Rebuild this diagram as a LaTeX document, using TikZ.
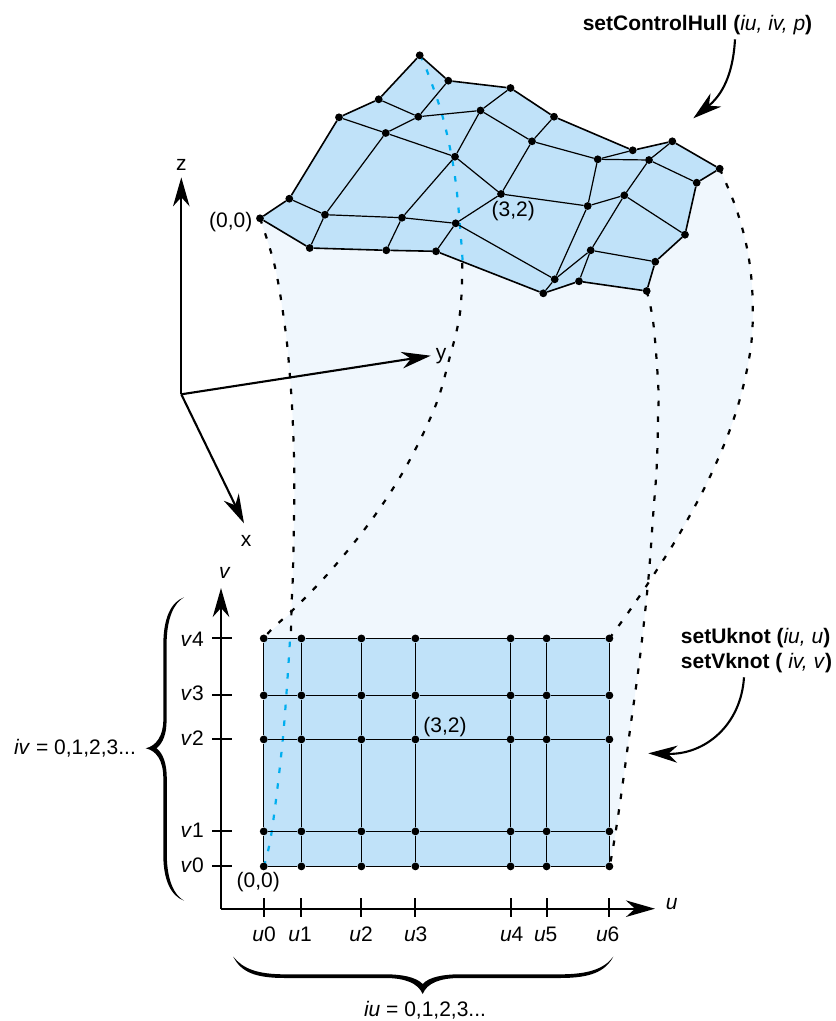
\documentclass[tikz,border=0pt]{standalone}
\usepackage{fontspec}
\setmainfont{Liberation Sans}
\usetikzlibrary{arrows.meta}
\definecolor{hullblue}{HTML}{C0E2F9}
\definecolor{paleblue}{HTML}{F0F7FD}
\definecolor{dashblue}{HTML}{00AEEF}
\tikzset{
  x=1pt,y=-1pt,
  dotnode/.style={circle,fill=black,inner sep=0pt,minimum size=7.8pt},
  lbl/.style={inner sep=0pt,font=\fontsize{21}{24}\selectfont,text=black},
  boldlbl/.style={lbl,font=\fontsize{21}{24}\selectfont\bfseries},
  innerline/.style={line width=1.2pt,black},
  outerline/.style={line width=1.6pt,black,line join=round},
  axisline/.style={line width=2.1pt,black,-{Stealth[length=29pt,width=16.5pt,inset=9pt]}},
  tickline/.style={line width=2pt,black},
  pointer/.style={line width=2.1pt,black,-{Stealth[length=29pt,width=17pt,inset=9pt]}},
  blackdash/.style={line width=2.2pt,black,dash pattern=on 5.5pt off 10.3pt},
  bluedash/.style={line width=2.2pt,dashblue,dash pattern=on 5.5pt off 10.3pt},
}
\begin{document}
\begin{tikzpicture}
\useasboundingbox (0,0) rectangle (836,1021);
% control point positions
\foreach \u/\v/\x/\y in {
 0/0/260/218.3, 1/0/309.7/248, 2/0/386.3/250.3, 3/0/436/251.3, 4/0/543.3/293.3, 5/0/579/281.3, 6/0/646.7/291,
 0/1/289.3/198.7, 1/1/325/214.7, 2/1/402/217.7, 3/1/455.7/223.3, 4/1/554.7/279.3, 5/1/590.7/250.3, 6/1/655.3/261.7,
 0/2/339/117.3, 1/2/385.7/133, 2/2/455/156.7, 3/2/501/194, 4/2/587.7/206, 5/2/624.3/195.3, 6/2/685/234.7,
 0/3/378.7/99.3, 1/3/418.3/116.7, 2/3/480.5/110.5, 3/3/532/141.3, 4/3/597.7/159.3, 5/3/649/160, 6/3/696.7/182.7,
 0/4/419.7/55.3, 1/4/448.3/80.7, 2/4/510.5/88, 3/4/554/116.7, 4/4/632.7/150.3, 5/4/672.3/141.3, 6/4/719.7/168.7}
  {\coordinate (p\u\v) at (\x,\y);}
% knot grid positions
\foreach \u/\x in {0/263.7,1/301.4,2/361.4,3/415.4,4/510.6,5/546.6,6/609.4}
  \foreach \v/\y in {0/866.4,1/831.4,2/739.4,3/695.4,4/638.4}
    {\coordinate (q\u\v) at (\x,\y);}
\coordinate (bleft) at (293,570);
\coordinate (bcross) at (648.5,580);
% pale swept region
\fill[paleblue] (p00) -- plot[smooth,tension=0.6] coordinates {(p00) (275,267) (285,327) (290,377) (293,427) (294.3,487) (bleft)}
  -- (291.5,612) -- (q04) -- (q00) -- (q60)
  -- plot[smooth,tension=0.6] coordinates {(q60) (612.7,850) (620,803) (630,730) (640,656.7) (bcross)}
  -- (655.7,571.7)
  -- plot[smooth,tension=0.6] coordinates {(655.7,571.7) (681.7,530) (711.7,473) (735.7,413) (750,353) (752.7,303) (748.3,255) (736.7,210) (p64)}
  -- (p44) -- (p30) -- cycle;
% hull and grid fills
\fill[hullblue] (p00) -- (p10) -- (p20) -- (p30) -- (p40) -- (p50) -- (p60) -- (p61) -- (p62) -- (p63) -- (p64) -- (p54) -- (p44) -- (p34) -- (p24) -- (p14) -- (p04) -- (p03) -- (p02) -- (p01) -- cycle;
\fill[hullblue] (q00) -- (q60) -- (q64) -- (q04) -- cycle;
% dashed iso-curves
\draw[blackdash] plot[smooth,tension=0.6] coordinates {(p00) (275,267) (285,327) (290,377) (293,427) (294.3,487) (bleft) (291.7,602) (291,632)};
\draw[bluedash] plot[smooth,tension=0.6] coordinates {(q00) (271.7,831.7) (283,737) (290,640)};
\draw[blackdash] plot[smooth,tension=0.6] coordinates {(462.3,263) (460,313) (449,360) (435,407) (407,465) (373,518) (333,568) (298,605) (273,628) (q04)};
\draw[bluedash] plot[smooth,tension=0.6] coordinates {(p04) (426.7,70) (443,118) (455,177) (461.7,247) (462.3,263)};
\draw[blackdash] plot[smooth,tension=0.6] coordinates {(p64) (736.7,210) (748.3,255) (752.7,303) (750,353) (735.7,413) (711.7,473) (681.7,530) (655.7,571.7) (630,610) (q64)};
\draw[blackdash] plot[smooth,tension=0.6] coordinates {(p60) (653.3,323) (658.3,387) (658,420) (656.7,467) (653.3,513) (648.3,580) (640,656.7) (630,730) (620,803) (612.7,850) (q60)};
% dots
\foreach \u in {0,...,6}\foreach \v in {0,...,4}{
  \node[dotnode] (s\u\v) at (p\u\v) {};
  \node[dotnode] (g\u\v) at (q\u\v) {};
}
% hull lines
\foreach \a/\b in {0/1,1/2,2/3,3/4,4/5,5/6}{
  \draw[outerline] (s\a0) -- (s\b0);
  \draw[outerline] (s\a4) -- (s\b4);
  \foreach \v in {1,2,3}{\draw[innerline] (s\a\v) -- (s\b\v);}
  \foreach \v in {0,...,4}{\draw[innerline] (g\a\v) -- (g\b\v);}
}
\foreach \a/\b in {0/1,1/2,2/3,3/4}{
  \draw[outerline] (s0\a) -- (s0\b);
  \draw[outerline] (s6\a) -- (s6\b);
  \foreach \u in {1,...,5}{\draw[innerline] (s\u\a) -- (s\u\b);}
  \foreach \u in {0,...,6}{\draw[innerline] (g\u\a) -- (g\u\b);}
}
% 3D axes
\coordinate (origin) at (181.3,394.3);
\coordinate (ztip) at (181.3,177.3);
\coordinate (ytip) at (430.7,355.7);
\coordinate (xtip) at (244,523.3);
\draw[axisline] (origin) -- (ztip);
\draw[axisline] (origin) -- (ytip);
\draw[axisline] (origin) -- (xtip);
\node[lbl] (zlabel) at (181.3,165) {z};
\node[lbl] (ylabel) at (441,356.5) {y};
\node[lbl] (xlabel) at (246,541) {x};
% 2D axes
\coordinate (corner) at (221,908.7);
\coordinate (vtip) at (221,588);
\coordinate (utip) at (655,908.7);
\draw[axisline] (corner) -- (vtip);
\draw[axisline] (corner) -- (utip);
\node[lbl] (ulabel) at (671.7,904) {\textit{u}};
\node[lbl] (vlabel) at (225,573) {\textit{v}};
\foreach \u/\x/\lx in {0/263.7/264,1/301/300,2/361.3/361,3/415/415.7,4/510.7/511.7,5/546.7/545.7,6/609.3/607.7}{
  \coordinate (ua\u) at (\x,898);
  \coordinate (ub\u) at (\x,916.7);
  \draw[tickline] (ua\u) -- (ub\u);
  \node[lbl] (ulab\u) at (\lx,934) {\textit{u}\u};
}
\foreach \v/\y/\ly in {0/866.3/865,1/831.3/830.7,2/739.3/738,3/695.3/693,4/638.3/639}{
  \coordinate (va\v) at (212.3,\y);
  \coordinate (vb\v) at (231.7,\y);
  \draw[tickline] (va\v) -- (vb\v);
  \node[lbl,anchor=west] (vlab\v) at (180.5,\ly) {\textit{v}\v};
}
% point labels
\node[lbl] (topzero) at (230.7,221.7) {(0,0)};
\node[lbl] (topmid) at (513.3,210.7) {(3,2)};
\node[lbl] (lowzero) at (258.3,881.7) {(0,0)};
\node[lbl] (lowmid) at (445,727) {(3,2)};
% braces
\fill[black] (184,597.3) .. controls (171,602) and (163.3,618) .. (163.3,645) -- (163.3,720)
  .. controls (163.3,736) and (156,746) .. (145.7,748.3)
  .. controls (156,750.5) and (163.3,760) .. (163.3,778) -- (163.3,855)
  .. controls (163.3,880) and (171,896) .. (184,900.7)
  .. controls (174,895) and (167,880) .. (166.8,855) -- (166.8,778)
  .. controls (166.8,764) and (163,753) .. (156.5,748.3)
  .. controls (163,743) and (166.6,734) .. (166.6,720) -- (166.6,645)
  .. controls (166.6,618) and (174,603) .. (184,597.3) -- cycle;
\fill[black] (233.3,956.7) .. controls (243,969) and (258,974.3) .. (285,974.3) -- (385,974.3)
  .. controls (402,974.3) and (416,977) .. (422.7,984)
  .. controls (429,977) and (443,974.3) .. (460,974.3) -- (560,974.3)
  .. controls (588,974.3) and (604,969) .. (613.3,956.7)
  .. controls (605,972) and (590,978) .. (560,978) -- (460,978)
  .. controls (440,978) and (427,983) .. (422.7,994)
  .. controls (418,983) and (405,978) .. (385,978) -- (285,978)
  .. controls (255,978) and (241,972) .. (233.3,956.7) -- cycle;
\node[lbl] (iulabel) at (425,1010.7) {\textit{iu} = 0,1,2,3...};
\node[lbl] (ivlabel) at (75,748.3) {\textit{iv} = 0,1,2,3...};
% method labels
\node[boldlbl] (hulllabel) at (697.5,25) {setControlHull (\textmd{\textit{iu, iv, p}})};
\node[boldlbl,anchor=west] (uknot) at (680.7,638.3) {setUknot (\textmd{\textit{iu, u}})};
\node[boldlbl,anchor=west] (vknot) at (680.7,663.3) {setVknot ( \textmd{\textit{iv, v}})};
\coordinate (hullstart) at (735,39.3);
\coordinate (hullend) at (693.3,118.3);
\coordinate (knotstart) at (744,677.3);
\coordinate (knotend) at (648.3,753.3);
\draw[pointer] (hullstart) .. controls (733,75) and (722,95) .. (hullend);
\draw[pointer] (knotstart) .. controls (741,725) and (705,755) .. (knotend);
\end{tikzpicture}
\end{document}
